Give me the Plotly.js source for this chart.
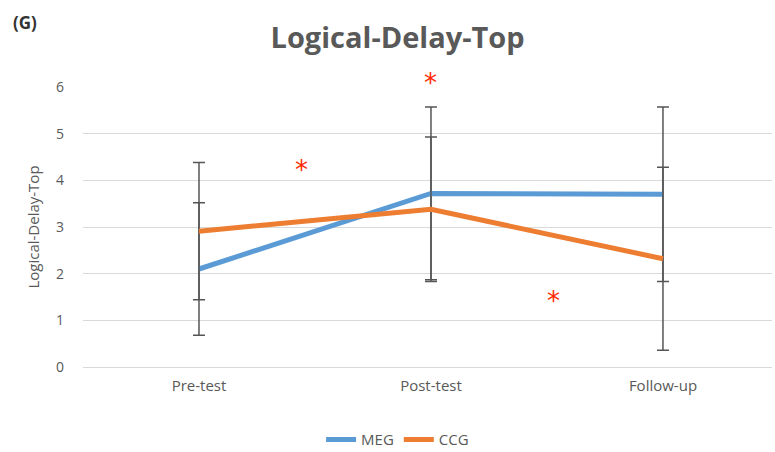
<!DOCTYPE html>
<html>
<head>
<meta charset="utf-8">
<script src="https://cdn.plot.ly/plotly-3.0.1.min.js"></script>
<style>html,body{margin:0;padding:0;background:#fff}#chart{width:775px;height:452px}</style>
</head>
<body>
<div id="chart"></div>
<script>
const categories = ["Pre-test", "Post-test", "Follow-up"];
const megValues = [2.1, 3.72, 3.7];
const megErrors = [1.42, 1.85, 1.87];
const ccgValues = [2.91, 3.38, 2.32];
const ccgErrors = [1.47, 1.55, 1.96];
const yTicks = [0, 1, 2, 3, 4, 5, 6];
const starX = [0.44, 1.0, 1.53];
const starY = [4.33, 6.19, 1.52];

const errStyle = {type: "data", visible: true, color: "#555555", thickness: 1.5, width: 6};

const traces = [
  {x: categories, y: megValues, name: "MEG", type: "scatter", mode: "lines",
   line: {color: "#5b9bd5", width: 5},
   error_y: Object.assign({array: megErrors}, errStyle)},
  {x: categories, y: ccgValues, name: "CCG", type: "scatter", mode: "lines",
   line: {color: "#ed7d31", width: 5},
   error_y: Object.assign({array: ccgErrors}, errStyle)}
];

const annotations = starX.map((xv, i) => {
  const above = starY[i] > 6;
  return {
    x: xv, y: above ? starY[i] / 6 : starY[i], xref: "x", yref: above ? "y domain" : "y",
    text: "*", showarrow: false, yanchor: "middle", yshift: -5,
    font: {family: "DejaVu Sans, sans-serif", size: 26, color: "#ff2a00"}
  };
});
annotations.push({
  x: -0.105, y: 1.232, xref: "paper", yref: "paper", xanchor: "left", yanchor: "middle",
  text: "<b>(G)</b>", showarrow: false,
  font: {family: "Open Sans, sans-serif", size: 17, color: "#333"}
});

const layout = {
  width: 775, height: 452,
  margin: {l: 83, r: 3, t: 87, b: 85},
  paper_bgcolor: "#ffffff", plot_bgcolor: "#ffffff",
  title: {text: "<b>Logical-Delay-Top</b>", x: 0.513, xanchor: "center", y: 0.916, yanchor: "middle",
    font: {family: "Open Sans, sans-serif", size: 29, color: "#595959"}},
  xaxis: {type: "category", range: [-0.5, 2.47], showgrid: false, zeroline: false,
    showline: false, ticks: "", ticklabelstandoff: 8,
    tickfont: {family: "Open Sans, sans-serif", size: 15, color: "#595959"}},
  yaxis: {range: [0, 6], tickvals: yTicks, ticktext: yTicks.map(String),
    showgrid: true, gridcolor: "#d9d9d9", gridwidth: 1, zeroline: true, zerolinecolor: "#d9d9d9",
    showline: false, ticks: "", ticklabelstandoff: 18,
    tickfont: {family: "Open Sans, sans-serif", size: 14, color: "#595959"},
    title: {text: "Logical-Delay-Top", standoff: 12, font: {family: "Open Sans, sans-serif", size: 15, color: "#595959"}}},
  legend: {orientation: "h", xref: "container", yref: "container", x: 0.513, xanchor: "center",
    y: 0.027, yanchor: "middle", itemwidth: 30,
    font: {family: "Open Sans, sans-serif", size: 15, color: "#595959"}},
  showlegend: true,
  annotations: annotations
};

Plotly.newPlot("chart", traces, layout, {displayModeBar: false, staticPlot: true});
</script>
</body>
</html>
